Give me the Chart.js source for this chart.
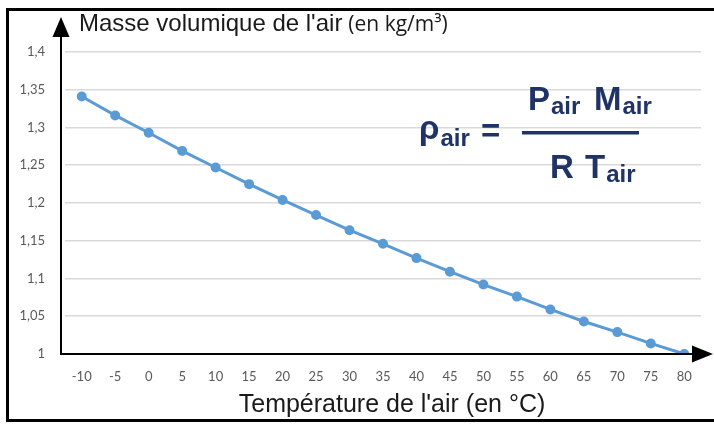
<!DOCTYPE html>
<html>
<head>
<meta charset="utf-8">
<script src="https://cdn.jsdelivr.net/npm/chart.js@4"></script>
<style>
    html, body { margin: 0; padding: 0; background: #fff; }
    #wrap { width: 714px; height: 426px; position: relative; }
</style>
</head>
<body>
<div id="wrap"><canvas id="airChart" width="714" height="426"></canvas></div>
<script>
// Données
const temperatures = ['-10', '-5', '0', '5', '10', '15', '20', '25', '30', '35', '40', '45', '50', '55', '60', '65', '70', '75', '80'];
const masseVolumique = [1.341, 1.316, 1.293, 1.269, 1.247, 1.225, 1.204, 1.184, 1.164, 1.146, 1.127, 1.109, 1.092, 1.076, 1.059, 1.043, 1.029, 1.014, 1.000];
const yMin = 1, yMax = 1.4, yStep = 0.05;

const titreY = "Masse volumique de l'air";
const uniteY = '(en kg/m³)';
const titreX = "Température de l'air (en °C)";

const NAVY = '#1f3366';

// Helper: triangle plein (flèches des axes)
const triangle = (ctx, pts) => {
    ctx.beginPath();
    ctx.moveTo(pts[0][0], pts[0][1]);
    ctx.lineTo(pts[1][0], pts[1][1]);
    ctx.lineTo(pts[2][0], pts[2][1]);
    ctx.closePath();
    ctx.fill();
};

// Dessin du cadre, des axes fléchés, des titres et de la formule
const decorPlugin = {
    id: 'decor',
    afterDraw(chart) {
        const ctx = chart.ctx;
        const area = chart.chartArea;
        const axeX = area.left - 4;
        const axeY = area.bottom;
        ctx.save();

        // cadre
        ctx.strokeStyle = '#000';
        ctx.lineWidth = 3;
        ctx.beginPath();
        ctx.moveTo(714, 9.5);
        ctx.lineTo(7.5, 9.5);
        ctx.lineTo(7.5, 420.5);
        ctx.lineTo(714, 420.5);
        ctx.stroke();

        // axes
        ctx.lineWidth = 2;
        ctx.beginPath();
        ctx.moveTo(axeX, 34);
        ctx.lineTo(axeX, axeY);
        ctx.lineTo(694, axeY);
        ctx.stroke();
        ctx.fillStyle = '#000';
        triangle(ctx, [[axeX, 17], [axeX - 8.5, 37], [axeX + 8.5, 37]]);
        triangle(ctx, [[713, axeY], [692, axeY - 8.5], [692, axeY + 8.5]]);

        // titres
        ctx.fillStyle = '#1a1a1a';
        ctx.textBaseline = 'alphabetic';
        ctx.textAlign = 'left';
        ctx.font = '24px "Liberation Sans"';
        ctx.fillText(titreY, 79, 31);
        const w = ctx.measureText(titreY).width;
        ctx.font = '21px "Open Sans"';
        ctx.fillText(uniteY, 79 + w + 6, 31);

        ctx.textAlign = 'center';
        ctx.font = '25px "Liberation Sans"';
        ctx.fillText(titreX, 392, 412);

        // formule
        ctx.fillStyle = NAVY;
        ctx.textAlign = 'left';
        const grand = 'bold 33px "Liberation Sans"';
        const petit = 'bold 24px "Liberation Sans"';
        const morceau = (txt, x, y, font) => {
            ctx.font = font;
            ctx.fillText(txt, x, y);
            return x + ctx.measureText(txt).width;
        };
        let x = morceau('ρ', 419, 139, grand);
        x = morceau('air', x + 1, 146, petit);
        morceau('=', 481, 142, grand);

        x = morceau('P', 528, 110, grand);
        morceau('air', x + 1, 114, petit);
        x = morceau('M', 594, 110, grand);
        morceau('air', x + 1, 114, petit);

        ctx.fillRect(522, 131, 117, 3.5);

        morceau('R', 550, 178, grand);
        x = morceau('T', 585, 178, grand);
        morceau('air', x + 1, 182, petit);

        ctx.restore();
    }
};

new Chart(document.getElementById('airChart'), {
    type: 'line',
    data: {
        labels: temperatures,
        datasets: [{
            data: masseVolumique,
            borderColor: '#5b9bd5',
            backgroundColor: '#5b9bd5',
            borderWidth: 3,
            pointRadius: 3.5,
            pointHoverRadius: 4,
            tension: 0
        }]
    },
    options: {
        responsive: false,
        animation: false,
        layout: { padding: { top: 52, right: 13, left: 0, bottom: 0 } },
        plugins: {
            legend: { display: false },
            tooltip: { enabled: false }
        },
        scales: {
            x: {
                offset: true,
                grid: { display: false, drawTicks: false },
                border: { display: false },
                ticks: {
                    color: '#595959',
                    padding: 15,
                    font: { family: 'Lato', size: 13 },
                    maxRotation: 0,
                    autoSkip: false
                },
                afterFit: (scale) => { scale.height = 72; }
            },
            y: {
                min: yMin,
                max: yMax,
                grid: { color: '#d9d9d9', lineWidth: 1.5, drawTicks: false },
                border: { display: false },
                ticks: {
                    stepSize: yStep,
                    color: '#595959',
                    padding: 20,
                    font: { family: 'Lato', size: 13 },
                    callback: (v) => String(Math.round(v * 100) / 100).replace('.', ',')
                },
                afterFit: (scale) => { scale.width = 65; }
            }
        }
    },
    plugins: [decorPlugin]
});
</script>
</body>
</html>
